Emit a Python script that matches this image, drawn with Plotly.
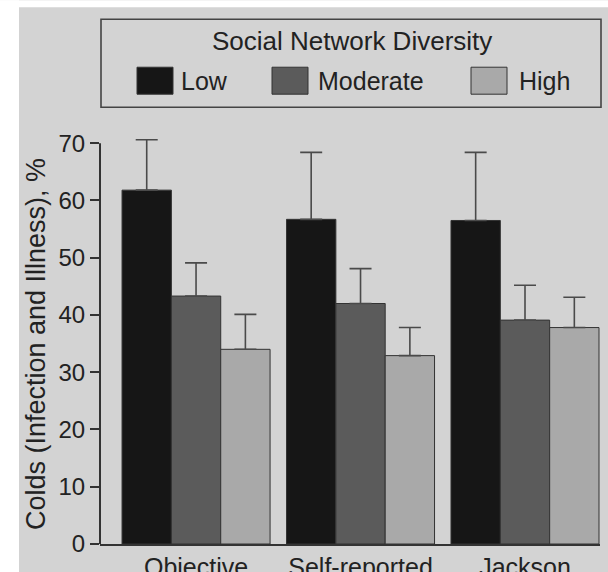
import plotly.graph_objects as go

# ---- data -------------------------------------------------------------
categories = ["Objective", "Self-reported", "Jackson"]
series_names = ["Low", "Moderate", "High"]
low_values = [61.8, 56.7, 56.5]
moderate_values = [43.3, 42.0, 39.1]
high_values = [34.0, 32.9, 37.8]
low_errors = [8.8, 11.7, 11.9]
moderate_errors = [5.8, 6.1, 6.1]
high_errors = [6.1, 4.9, 5.3]
y_ticks = [0, 10, 20, 30, 40, 50, 60, 70]

legend_title = "Social Network Diversity"
y_title = "Colds (Infection and Illness), %"

# ---- styling ----------------------------------------------------------
W, H = 608, 572
AXIS_TOP = 70          # the drawn y-axis line stops at this value
RANGE_TOP = 73         # a little headroom so tall error caps are not clipped
AXIS_TOP_PX = 143      # pixel row of the 70 tick
M_L, M_R, M_B = 100, 8, 28
px_per_unit = (H - M_B - AXIS_TOP_PX) / AXIS_TOP
M_T = AXIS_TOP_PX - (RANGE_TOP - AXIS_TOP) * px_per_unit

PAPER = "#d3d3d3"
INK = "#222222"
LINE = "#333333"
FONT = "Liberation Sans, Arial, Helvetica, sans-serif"
bar_colors = ["#161616", "#5b5b5b", "#a9a9a9"]

plot_w = W - M_L - M_R
plot_h = H - M_T - M_B


def px_x(px):
    return (px - M_L) / plot_w


def px_y(py):
    return (H - M_B - py) / plot_h


values = [low_values, moderate_values, high_values]
errors = [low_errors, moderate_errors, high_errors]

fig = go.Figure()
for name, vals, errs, color in zip(series_names, values, errors, bar_colors):
    fig.add_trace(go.Bar(
        name=name,
        x=categories,
        y=vals,
        marker=dict(color=color, line=dict(color=LINE, width=1)),
        error_y=dict(type="data", symmetric=False, array=errs,
                     arrayminus=[0] * len(errs),
                     color="#4a4a4a", thickness=1.6, width=11),
        showlegend=False,
    ))

shapes = [
    # white scan border on the left and top edges
    dict(type="rect", xref="paper", yref="paper", layer="below",
         x0=px_x(0), x1=px_x(19), y0=px_y(H), y1=px_y(0),
         fillcolor="white", line=dict(width=0)),
    dict(type="rect", xref="paper", yref="paper", layer="below",
         x0=px_x(0), x1=px_x(W), y0=px_y(7), y1=px_y(0),
         fillcolor="white", line=dict(width=0)),
    # y-axis spine from 0 to 70
    dict(type="line", xref="paper", yref="y", x0=0, x1=0,
         y0=0, y1=AXIS_TOP, line=dict(color=LINE, width=2)),
    # legend frame
    dict(type="rect", xref="paper", yref="paper",
         x0=px_x(101), x1=px_x(601), y0=px_y(107), y1=px_y(19),
         fillcolor="rgba(0,0,0,0)", line=dict(color="#444444", width=1.6)),
]

annotations = [
    dict(text=legend_title, xref="paper", yref="paper",
         x=px_x(352), y=px_y(41), xanchor="center", yanchor="middle",
         showarrow=False, font=dict(family=FONT, size=26, color=INK)),
    dict(text=y_title, xref="paper", yref="paper",
         x=px_x(36), y=px_y(344), xanchor="center", yanchor="middle",
         textangle=-90, showarrow=False,
         font=dict(family=FONT, size=27, color=INK)),
]

swatch_x = [137, 272, 471]
label_x = [179, 316, 517]
for name, color, sx, lx in zip(series_names, bar_colors, swatch_x, label_x):
    shapes.append(dict(type="rect", xref="paper", yref="paper",
                       x0=px_x(sx), x1=px_x(sx + 36),
                       y0=px_y(94), y1=px_y(67),
                       fillcolor=color, line=dict(color=LINE, width=1)))
    annotations.append(dict(text=name, xref="paper", yref="paper",
                            x=px_x(lx), y=px_y(81), xanchor="left",
                            yanchor="middle", showarrow=False,
                            font=dict(family=FONT, size=25, color=INK)))

fig.update_layout(
    width=W, height=H,
    margin=dict(l=M_L, r=M_R, t=M_T, b=M_B, autoexpand=False),
    paper_bgcolor=PAPER,
    plot_bgcolor=PAPER,
    barmode="group",
    bargap=0.1,
    bargroupgap=0,
    font=dict(family=FONT, color=INK),
    shapes=shapes,
    annotations=annotations,
    xaxis=dict(
        type="category",
        range=[-0.584, 2.456],
        showline=True, linecolor=LINE, linewidth=2,
        ticks="", showgrid=False, zeroline=False,
        tickfont=dict(family=FONT, size=25, color=INK),
    ),
    yaxis=dict(
        range=[0, RANGE_TOP],
        tickvals=y_ticks,
        showline=False,
        ticks="outside", ticklen=9, tickwidth=2, tickcolor=LINE,
        showgrid=False, zeroline=False,
        tickfont=dict(family=FONT, size=24, color=INK),
    ),
)

fig.write_html("out.html")
